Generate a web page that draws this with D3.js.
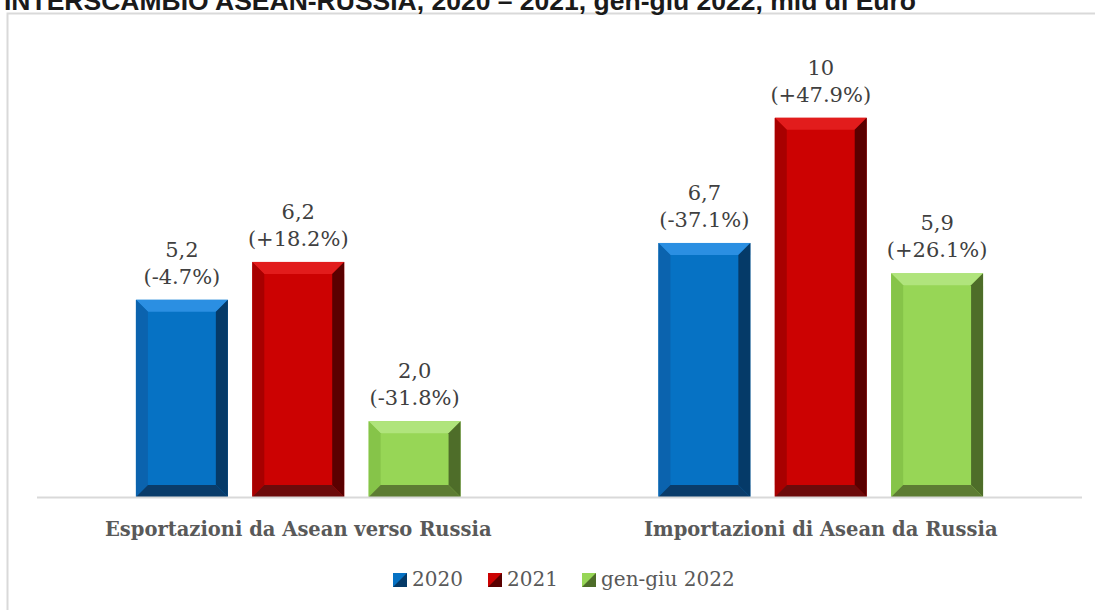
<!DOCTYPE html>
<html>
<head>
<meta charset="utf-8">
<script src="https://cdn.jsdelivr.net/npm/d3@7"></script>
<style>
  html, body { margin: 0; padding: 0; background: #fff; }
  svg { display: block; }
</style>
</head>
<body>
<svg id="chart" width="1095" height="610"></svg>
<script>
// data
var categories = ["Esportazioni da Asean verso Russia", "Importazioni di Asean da Russia"];
var seriesNames = ["2020", "2021", "gen-giu 2022"];
var values2020 = [5.2, 6.7];
var values2021 = [6.2, 10];
var valuesGenGiu2022 = [2.0, 5.9];
var labels2020 = ["5,2", "6,7"];
var labels2021 = ["6,2", "10"];
var labelsGenGiu2022 = ["2,0", "5,9"];
var change2020 = ["(-4.7%)", "(-37.1%)"];
var change2021 = ["(+18.2%)", "(+47.9%)"];
var changeGenGiu2022 = ["(-31.8%)", "(+26.1%)"];
var titleText = "INTERSCAMBIO ASEAN-RUSSIA, 2020 \u2013 2021, gen-giu 2022, mld di Euro";

var seriesValues = [values2020, values2021, valuesGenGiu2022];
var seriesLabels = [labels2020, labels2021, labelsGenGiu2022];
var seriesChange = [change2020, change2021, changeGenGiu2022];

// colours for face + bevels
var palette = {
  "2020":         { face: "#0672c4", top: "#2b8fe2", left: "#0b63ae", right: "#053a68", bottom: "#0a3c6a" },
  "2021":         { face: "#cc0202", top: "#e21c1c", left: "#a80000", right: "#5a0000", bottom: "#6c0b0b" },
  "gen-giu 2022": { face: "#97d656", top: "#b0e47c", left: "#86c449", right: "#4e6d29", bottom: "#5d7c33" }
};

var svg = d3.select("#chart");
var serif = "'DejaVu Serif', 'Liberation Serif', serif";

// outer frame (cut off on the right and bottom)
svg.append("rect")
  .attr("x", 7.5).attr("y", 13.5)
  .attr("width", 1100).attr("height", 620)
  .attr("fill", "none")
  .attr("stroke", "#d9d9d9")
  .attr("stroke-width", 2);

// title, its upper half falls outside the picture as in the source
svg.append("text")
  .attr("x", 4).attr("y", 10)
  .attr("font-family", "'Liberation Sans', Arial, sans-serif")
  .attr("font-weight", "bold")
  .attr("font-size", 26.5)
  .attr("fill", "#1a1a1a")
  .text(titleText);

var x0 = d3.scaleBand().domain(categories).range([37, 1082]);
var x1 = d3.scaleBand().domain(seriesNames).range([0, x0.bandwidth()])
  .paddingInner(0.21).paddingOuter(0.85);
var y = d3.scaleLinear().domain([0, 12]).range([497, 42]);

var rows = [];
categories.forEach(function(c, ci) {
  seriesNames.forEach(function(s, si) {
    rows.push({ cat: c, series: s, v: seriesValues[si][ci],
      label: seriesLabels[si][ci], change: seriesChange[si][ci] });
  });
});

function bevels(d) {
  var a = x0(d.cat) + x1(d.series), b = a + x1.bandwidth();
  var t = y(d.v), btm = y(0), k = 12;
  return [
    { side: "top",    pts: [[a, t], [b, t], [b - k, t + k], [a + k, t + k]] },
    { side: "left",   pts: [[a, t], [a + k, t + k], [a + k, btm - k], [a, btm]] },
    { side: "right",  pts: [[b, t], [b, btm], [b - k, btm - k], [b - k, t + k]] },
    { side: "bottom", pts: [[a, btm], [b, btm], [b - k, btm - k], [a + k, btm - k]] }
  ];
}

var bars = svg.append("g").selectAll("g").data(rows).enter().append("g");

bars.append("rect")
  .attr("x", function(d) { return x0(d.cat) + x1(d.series); })
  .attr("y", function(d) { return y(d.v); })
  .attr("width", x1.bandwidth())
  .attr("height", function(d) { return y(0) - y(d.v); })
  .attr("fill", function(d) { return palette[d.series].face; });

bars.each(function(d) {
  d3.select(this).selectAll("polygon").data(bevels(d)).enter().append("polygon")
    .attr("points", function(p) { return p.pts.map(function(q) { return q.join(","); }).join(" "); })
    .attr("fill", function(p) { return palette[d.series][p.side]; });
});

// value labels
var lbl = svg.append("g").selectAll("text").data(rows).enter().append("text")
  .attr("text-anchor", "middle")
  .attr("font-family", serif)
  .attr("font-size", 21)
  .attr("fill", "#404040");
lbl.append("tspan")
  .attr("x", function(d) { return x0(d.cat) + x1(d.series) + x1.bandwidth() / 2; })
  .attr("y", function(d) { return y(d.v) - 43; })
  .text(function(d) { return d.label; });
lbl.append("tspan")
  .attr("x", function(d) { return x0(d.cat) + x1(d.series) + x1.bandwidth() / 2; })
  .attr("y", function(d) { return y(d.v) - 16; })
  .text(function(d) { return d.change; });

// baseline
svg.append("line")
  .attr("x1", 37).attr("x2", 1082)
  .attr("y1", y(0) + 0.5).attr("y2", y(0) + 0.5)
  .attr("stroke", "#d9d9d9").attr("stroke-width", 2);

// category labels
svg.append("g").selectAll("text").data(categories).enter().append("text")
  .attr("x", function(c) { return x0(c) + x0.bandwidth() / 2; })
  .attr("y", 536)
  .attr("text-anchor", "middle")
  .attr("font-family", serif)
  .attr("font-weight", "bold")
  .attr("font-size", 19.5)
  .attr("fill", "#595959")
  .text(function(c) { return c; });

// legend
var legendX = [393, 488, 582];
var leg = svg.append("g").selectAll("g").data(seriesNames).enter().append("g")
  .attr("transform", function(s, i) { return "translate(" + legendX[i] + ",573)"; });
leg.append("rect")
  .attr("width", 14).attr("height", 14)
  .attr("fill", function(s) { return palette[s].face; });
leg.append("polygon")
  .attr("points", "14,0 14,14 0,14")
  .attr("fill", function(s) { return palette[s].right; });
leg.append("text")
  .attr("x", 19).attr("y", 13)
  .attr("font-family", serif)
  .attr("font-size", 20)
  .attr("fill", "#595959")
  .text(function(s) { return s; });
</script>
</body>
</html>
